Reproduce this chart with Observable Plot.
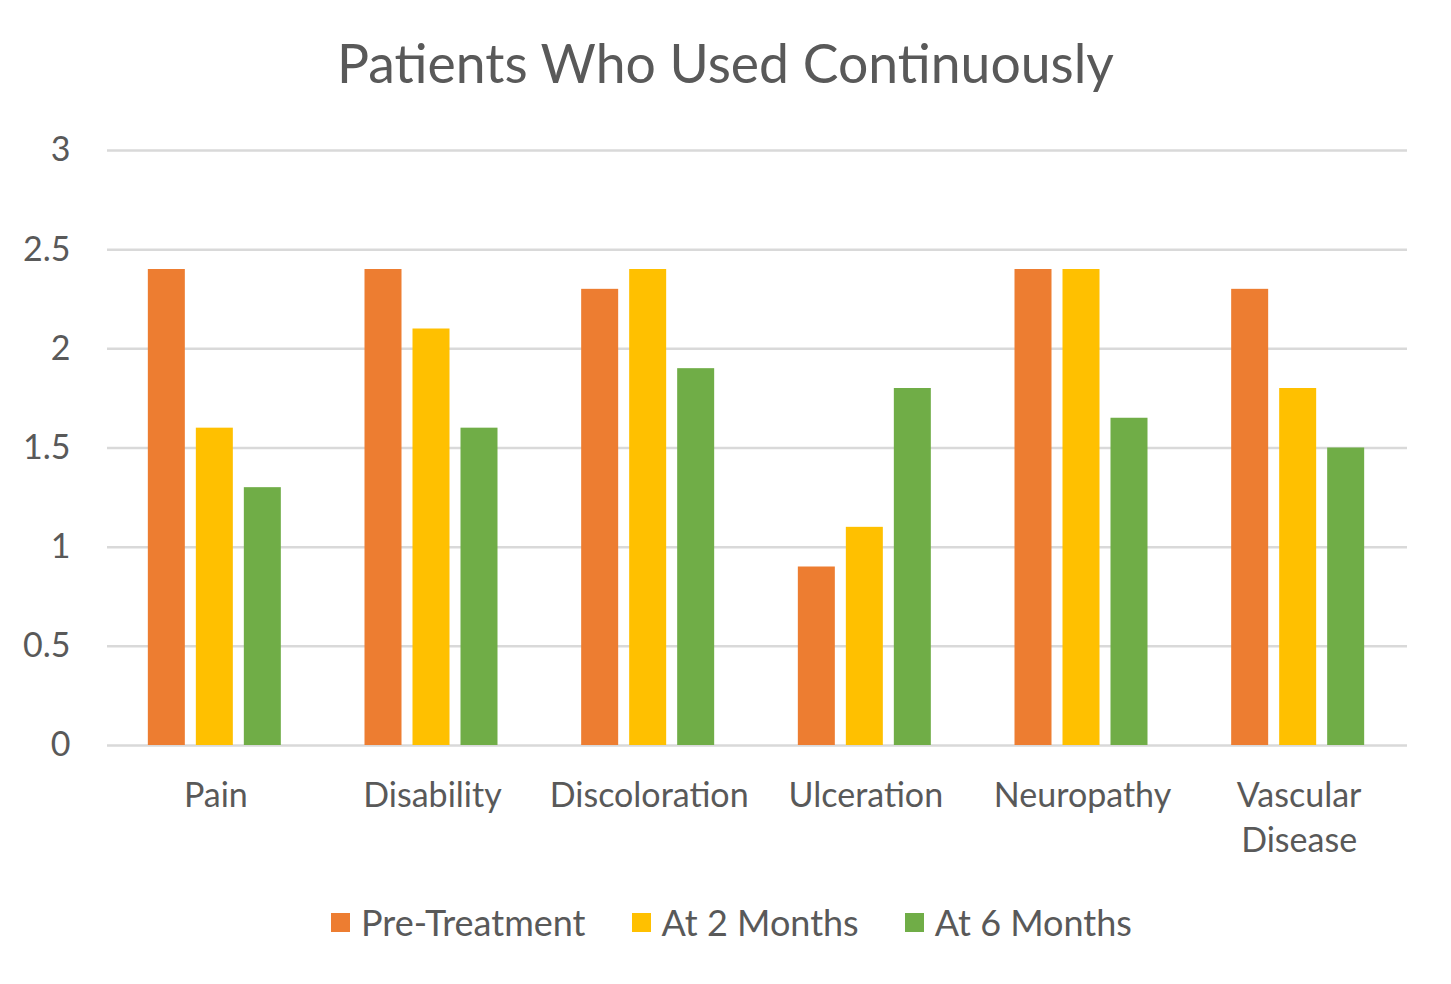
<!DOCTYPE html>
<html>
<head>
<meta charset="utf-8">
<script src="https://cdn.jsdelivr.net/npm/d3@7"></script>
<script src="https://cdn.jsdelivr.net/npm/@observablehq/plot@0.6"></script>
<style>
  html, body { margin: 0; padding: 0; background: #fff; }
  body { width: 1451px; height: 984px; font-family: Lato, "Open Sans", sans-serif; color: #595959; }
  #title { height: 110px; display: flex; align-items: center; justify-content: center; font-size: 53.5px; padding-top: 14px; box-sizing: border-box; }
  #legend { display: flex; justify-content: center; align-items: center; font-size: 36px; margin-top: 30px; padding-left: 12px; }
  .item { display: flex; align-items: center; margin: 0 23px; }
  .sw { width: 19px; height: 19px; margin-right: 11px; }
</style>
</head>
<body>
<div id="title">Patients Who Used Continuously</div>
<div id="chart"></div>
<div id="legend"></div>
<script>
const categories = ["Pain", "Disability", "Discoloration", "Ulceration", "Neuropathy", "Vascular Disease"];
const seriesNames = ["Pre-Treatment", "At 2 Months", "At 6 Months"];
const colors = ["#ED7D31", "#FFC000", "#70AD47"];
const preTreatment = [2.4, 2.4, 2.3, 0.9, 2.4, 2.3];
const at2Months = [1.6, 2.1, 2.4, 1.1, 2.4, 1.8];
const at6Months = [1.3, 1.6, 1.9, 1.8, 1.65, 1.5];
const yTicks = [0, 0.5, 1, 1.5, 2, 2.5, 3];
const yTickLabels = ["0", "0.5", "1", "1.5", "2", "2.5", "3"];
const xLabels = {"Vascular Disease": "Vascular\nDisease"};

const seriesValues = [preTreatment, at2Months, at6Months];

const width = 1451, marginLeft = 107, marginRight = 44;
const step = (width - marginLeft - marginRight) / categories.length;
const barW = 37, gap = 11;
const groupW = barW * 3 + gap * 2;
const off = (step - groupW) / 2 - 1;

const barMarks = seriesValues.map((vals, i) => {
  const data = categories.map((c, j) => ({category: c, value: vals[j]}));
  const left = off + i * (barW + gap);
  return Plot.barY(data, {
    x: "category", y: "value", fill: colors[i],
    insetLeft: left, insetRight: step - left - barW
  });
});

const chart = Plot.plot({
  width, height: 760,
  marginLeft, marginRight, marginTop: 40, marginBottom: 125,
  style: {fontFamily: "Lato, 'Open Sans', sans-serif", fontSize: "34px", color: "#595959", background: "#fff"},
  x: {domain: categories, padding: 0, round: false, label: null},
  y: {domain: [0, 3], label: null},
  marks: [
    Plot.ruleY(yTicks, {stroke: "#d9d9d9", strokeWidth: 2.5}),
    ...barMarks,
    Plot.axisY(yTicks, {tickSize: 0, tickPadding: 37, label: null, fill: "#595959", fontSize: 34,
      tickFormat: d => yTickLabels[yTicks.indexOf(d)]}),
    Plot.axisX({tickSize: 0, tickPadding: 30, label: null, fill: "#595959", fontSize: 34, lineHeight: 1.32,
      tickFormat: d => xLabels[d] ?? d})
  ]
});
document.getElementById("chart").appendChild(chart);

const legend = document.getElementById("legend");
seriesNames.forEach((n, i) => {
  const it = document.createElement("div");
  it.className = "item";
  const sw = document.createElement("div");
  sw.className = "sw";
  sw.style.background = colors[i];
  const t = document.createElement("span");
  t.textContent = n;
  it.appendChild(sw); it.appendChild(t);
  legend.appendChild(it);
});
</script>
</body>
</html>
